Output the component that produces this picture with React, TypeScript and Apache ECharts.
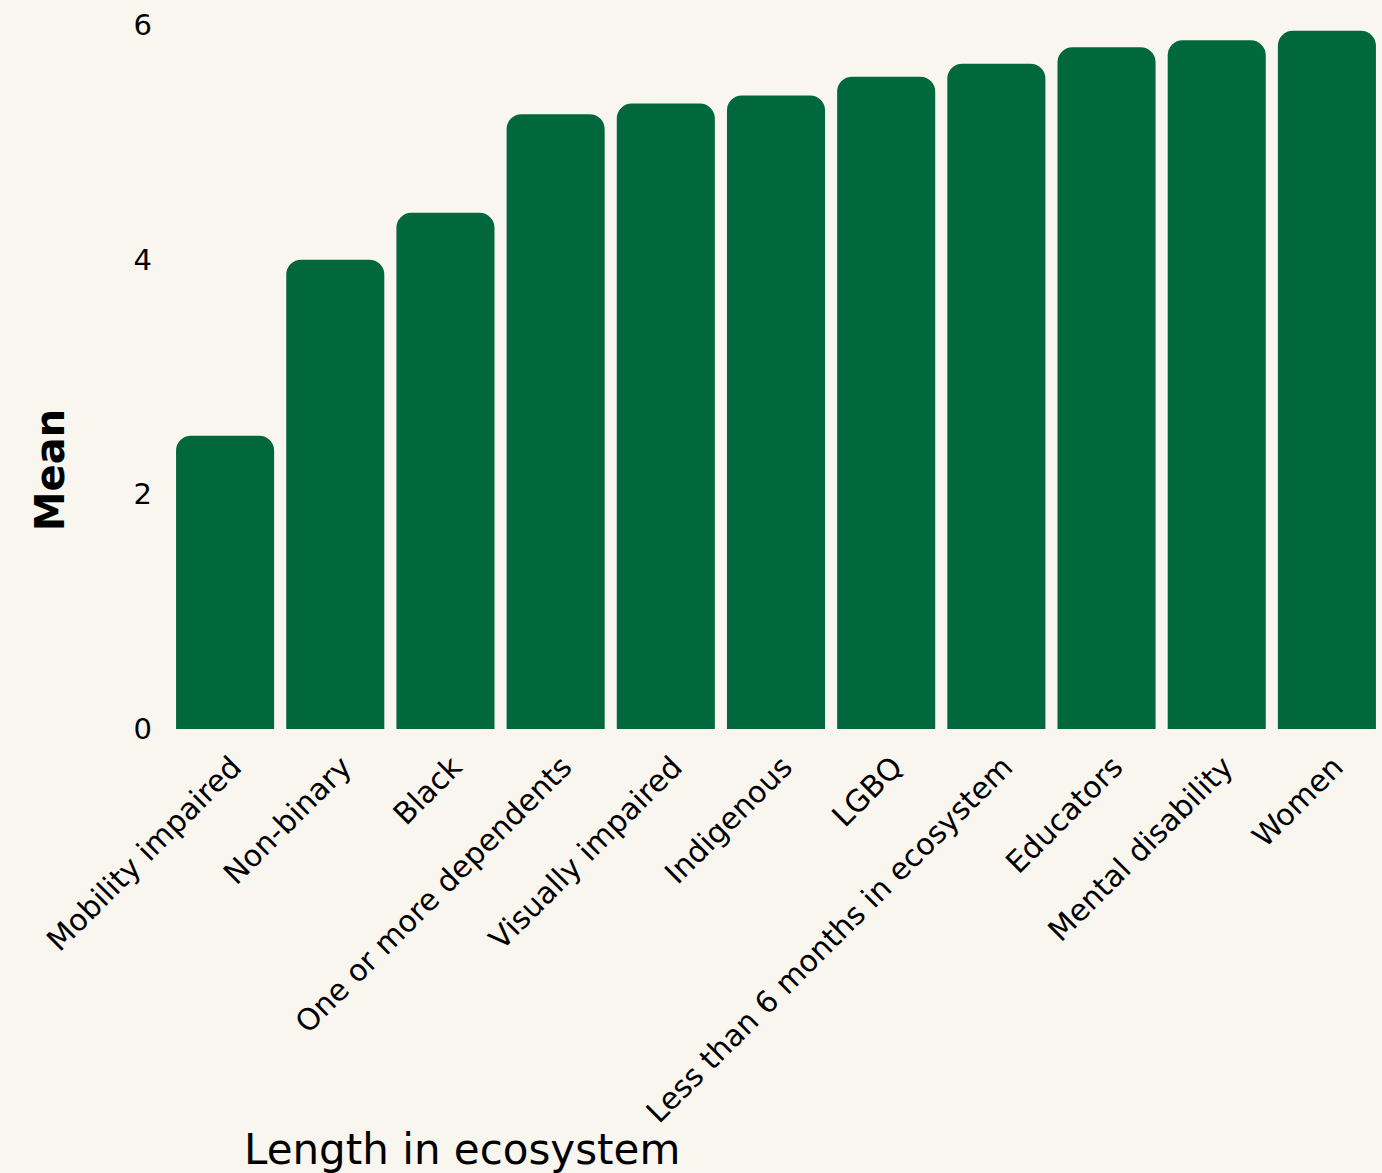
import React, { useEffect, useRef } from "react";
import * as echarts from "echarts";

const categories = [
  "Mobility impaired",
  "Non-binary",
  "Black",
  "One or more dependents",
  "Visually impaired",
  "Indigenous",
  "LGBQ",
  "Less than 6 months in ecosystem",
  "Educators",
  "Mental disability",
  "Women",
];
const meanValues = [2.5, 4.0, 4.4, 5.24, 5.33, 5.4, 5.56, 5.67, 5.81, 5.87, 5.95];
const yTicks = [0, 2, 4, 6];

const FONT = "DejaVu Sans";
const BG = "#f9f6f0";
const BAR = "#00683a";

export default function App() {
  const ref = useRef<HTMLDivElement>(null);
  useEffect(() => {
    document.body.style.margin = "0";
    const chart = echarts.init(ref.current!, null, { renderer: "svg" });
    chart.setOption({
      animation: false,
      backgroundColor: BG,
      grid: { left: 170, right: 0, top: 25, bottom: 444, containLabel: false },
      xAxis: {
        type: "category",
        data: categories,
        axisLine: { show: false },
        axisTick: { show: false },
        axisLabel: {
          rotate: 45,
          margin: 22,
          interval: 0,
          verticalAlign: "top",
          color: "#000",
          fontFamily: FONT,
          fontSize: 30,
        },
      },
      yAxis: {
        type: "value",
        min: yTicks[0],
        max: yTicks[yTicks.length - 1],
        interval: 2,
        splitLine: { show: false },
        axisLine: { show: false },
        axisTick: { show: false },
        axisLabel: {
          margin: 18,
          color: "#000",
          fontFamily: FONT,
          fontSize: 29,
          formatter: (v: number) => (yTicks.includes(v) ? String(v) : ""),
        },
      },
      series: [
        {
          type: "bar",
          data: meanValues,
          barCategoryGap: "11%",
          itemStyle: { color: BAR, borderRadius: [15, 15, 0, 0] },
        },
      ],
      graphic: [
        {
          type: "text",
          x: 50,
          y: 470,
          rotation: Math.PI / 2,
          style: {
            text: "Mean",
            fontFamily: FONT,
            fontWeight: "bold",
            fontSize: 40,
            fill: "#000",
            align: "center",
            verticalAlign: "middle",
          },
        },
        {
          type: "text",
          left: 244,
          top: 1128,
          style: {
            text: "Length in ecosystem",
            fontFamily: FONT,
            fontSize: 42,
            fill: "#000",
          },
        },
      ],
    });
    return () => chart.dispose();
  }, []);
  return <div ref={ref} style={{ width: 1382, height: 1173, background: BG }} />;
}
